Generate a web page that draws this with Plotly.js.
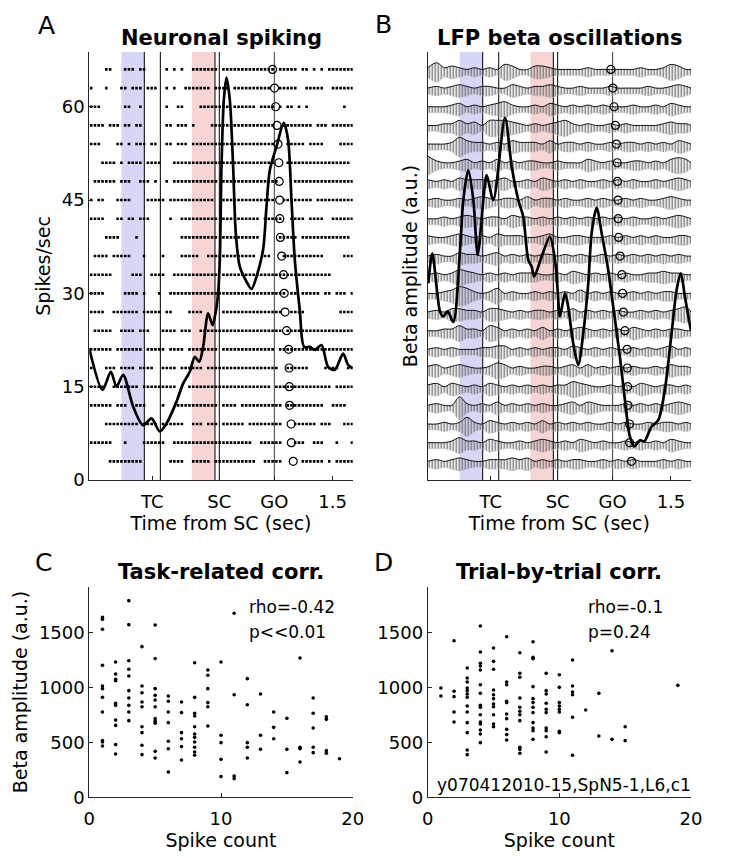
<!DOCTYPE html>
<html><head><meta charset="utf-8">
<script src="https://cdn.plot.ly/plotly-3.0.1.min.js"></script>
<style>html,body{margin:0;padding:0;background:#fff}</style>
</head><body><div id="chart" style="width:751px;height:858px"></div>
<script>
// ---------- DATA ----------
const trialRows = [66,63,60,57,54,51,48,45,42,39,36,33,30,27,24,21,18,15,12,9,6,3];
const goMarks = [0.704,0.731,0.746,0.764,0.777,0.788,0.792,0.799,0.801,0.808,0.826,0.850,0.859,0.870,0.890,0.918,0.923,0.927,0.931,0.951,0.953,0.978];
const spikeBinStart = -1.72, spikeBinWidth = 0.05;
const spikeRows = [
"0000110001"+"1101100000"+"1010100111"+"1111011111"+"1111111110"+"1111101101"+"0101111111",
"1000100011"+"0111011100"+"1010011111"+"1101111011"+"1111111100"+"1111100111"+"1100111111",
"1110000001"+"1001000000"+"1001100001"+"1111111011"+"1111011110"+"1011010100"+"0000000100",
"1111011101"+"1011000000"+"1101110100"+"0011111111"+"1111111110"+"0111111110"+"1110111111",
"1110000110"+"1011101100"+"1101110111"+"1111111111"+"1111111110"+"0011111011"+"1100001111",
"0001111010"+"1111011110"+"0011111111"+"1111111111"+"1111111110"+"0011111111"+"1111111110",
"0111111011"+"1001110100"+"1011111111"+"1111011111"+"1111111111"+"0000111111"+"1111111111",
"1011000111"+"1000011111"+"0111111111"+"1110011111"+"1111111110"+"0111111110"+"1111111111",
"1111000110"+"1101110000"+"0100111111"+"1111011111"+"1111101111"+"1001111011"+"1100111111",
"0000111100"+"0010000000"+"0000111111"+"1111011111"+"1111100000"+"1111101111"+"1111111110",
"0111101111"+"1000100001"+"0000111110"+"0111111111"+"1111001100"+"0111111111"+"1100000111",
"1111110000"+"0111001111"+"0011111111"+"1111011111"+"1111111111"+"1111111111"+"1111000000",
"1111000001"+"1110100010"+"0111111111"+"1111111111"+"1111111111"+"1101101111"+"1011011101",
"1111001111"+"1110111110"+"1100001111"+"0000011111"+"1111111111"+"1001111000"+"0000001111",
"0111110011"+"1101110001"+"1110111001"+"1111111111"+"1111111111"+"1011111111"+"1111111111",
"1111110111"+"1111011111"+"0111101111"+"1111011111"+"1111111110"+"1111111111"+"1111111111",
"1000111011"+"1101111001"+"1110111111"+"0111111111"+"1111111111"+"0011111100"+"0011110011",
"1111001111"+"1110111111"+"1110001111"+"1111111111"+"1111111101"+"1111111111"+"1111011111",
"1111110111"+"0011100001"+"0001111111"+"1111011110"+"1111111111"+"1011111111"+"1100111100",
"0000111111"+"1110111101"+"1111100111"+"0111011111"+"1011111111"+"1000111111"+"0111000111",
"1111110001"+"0000111111"+"0011111111"+"1111111111"+"1110011111"+"1000111001"+"1100010001",
"0000011111"+"1111000000"+"0111100111"+"1101111111"+"1111001111"+"1000001111"+"1101011111"
];
const rateTimes = [-1.722,-1.545,-1.435,-1.360,-1.272,-1.140,-1.008,-0.897,-0.787,-0.698,-0.566,-0.479,-0.390,-0.324,-0.267,-0.214,-0.148,-0.090,-0.046,-0.016,0.007,0.029,0.060,0.095,0.139,0.183,0.218,0.271,0.360,0.426,0.492,0.579,0.624,0.668,0.757,0.853,0.910,0.955,0.999,1.065,1.122,1.197,1.263,1.352,1.439,1.528,1.638,1.704,1.762];
const rateValues = [21.2,14.5,17.4,15.0,16.9,11.8,8.8,9.9,7.8,9.1,12.6,15.5,17.4,19.8,19.0,21.4,26.8,24.9,27.1,30.0,35.4,50.4,61.1,64.7,61.1,50.4,39.7,34.3,31.9,30.7,32.7,37.0,43.9,49.8,53.6,57.4,54.7,45.0,35.4,27.3,21.4,21.4,20.9,21.7,18.2,17.7,20.3,18.5,18.0];
const lfpTimes = [-1.72,-1.6,-1.5,-1.4,-1.3,-1.2,-1.1,-1.0,-0.9,-0.8,-0.7,-0.6,-0.5,-0.4,-0.3,-0.2,-0.1,0.0,0.1,0.2,0.3,0.4,0.5,0.6,0.7,0.8,0.9,1.0,1.1,1.2,1.3,1.4,1.5,1.6,1.7,1.765];
const lfpRows = [
"252321212143113321111211111121124311",
"121232122113212232112111211112112321",
"111231212342112132121212111211213211",
"112242314443212123421211212111123221",
"111253221213222131221211212212121321",
"521123121312122112111321211221213431",
"212132221231121321212112121211212321",
"121121232122131221211212112121123211",
"112123212213221212121212121211212321",
"211232121322211231122111212121211221",
"121132212312121221212112121212121211",
"121243212121222112132121212112232211",
"112354212412112121213121211212122111",
"121332213321212212131212121121212341",
"112242214312121312123212121321212211",
"121211122331212122132121211212123121",
"231232112431211221231312121211213221",
"231321213212121212243211212132122121",
"121162121312121211231321112121212321",
"112125213212121312121211212112122121",
"111242213211212321213212112121213211",
"121232112223231212122112121211121211"
];
const betaTimes = [-1.712,-1.659,-1.557,-1.513,-1.455,-1.381,-1.292,-1.249,-1.183,-1.116,-1.058,-0.984,-0.939,-0.852,-0.697,-0.608,-0.521,-0.455,-0.389,-0.344,-0.310,-0.212,-0.102,-0.036,0.000,0.030,0.097,0.132,0.206,0.272,0.339,0.405,0.450,0.516,0.582,0.669,0.735,0.824,0.890,0.956,1.013,1.089,1.146,1.243,1.331,1.419,1.508,1.574,1.631,1.684,1.763];
const betaValues = [31.6,36.4,27.1,26.3,27.1,25.4,37.0,45.0,49.8,45.0,36.2,45.0,49.0,45.0,58.2,50.4,45.0,42.3,35.4,34.3,32.7,35.9,39.1,35.4,30.5,26.3,30.0,28.4,22.0,18.5,23.6,31.6,39.7,43.8,39.7,33.8,27.9,19.8,12.9,7.0,5.4,6.4,6.2,8.6,9.6,14.5,23.6,30.5,33.2,29.5,24.1];
const eventLines = [-0.992,-0.780,-0.057,0.0];
const goLine = 0.728;
const blueBand = [-1.296,-0.992];
const pinkBand = [-0.361,-0.057];
const timeTickVals = [-0.886,0,0.728,1.5];
const timeTickText = ['TC','SC','GO','1.5'];
const rateTickVals = [0,15,30,45,60];
const countTickVals = [0,10,20];
const ampTickVals = [0,500,1000,1500];
// spike count 1..19 -> beta amplitudes
const taskBetaByCount = [
[1636,1618,1527,1200,1012,988,909,776,515,503,467],
[1230,1121,1073,1060,854,836,703,654,479,394],
[1788,1570,1242,1164,1103,970,903,836,776,697],
[1370,1012,951,867,824,642,588,473,388],
[1567,1261,988,927,885,824,715,691,673,418,358],
[921,873,776,679,509,442,230],
[867,770,588,533,461,339],
[1224,909,764,739,642,576,545,503,455,412,382],
[1157,1109,988,861,824,648],
[1230,564,497,345,188],
[1673,933,194,170],
[1079,842,497,455,358],
[939,564,436],
[776,636,533],
[718,436,224],
[1267,455,442,321],
[903,764,630,455,406],
[733,709,424,400],
[351]
];
const trialBetaByCount = [
[994,921],
[1424,964,915,776,685],
[1176,1085,1048,994,970,939,909,830,776,679,588,430,388],
[1557,1321,1218,1194,1157,1024,945,836,818,751,685,667,612,576,497],
[1357,1236,1164,976,933,897,848,824,751,667,642],
[1460,1048,1024,873,861,758,715,618,570,521],
[1315,1127,1091,903,818,782,751,697,455,436,400],
[1415,1273,1260,1006,897,861,818,770,679,630,606,527],
[1127,970,939,855,800,770,630,606,551,412],
[1115,1000,861,830,800,776,600,588],
[1248,1012,958,933,727,382],
[794],
[945,557],
[1333,527],
[642,515],
[],[],[],
[1018]
];

// ---------- BUILD ----------
const FONT = 'DejaVu Sans, Liberation Sans, sans-serif';
const AX = '#262626';
const traces = [];

// raster
const rx = [], ry = [];
spikeRows.forEach((s, r) => {
  for (let i = 0; i < s.length; i++) if (s[i] === '1') { rx.push(spikeBinStart + spikeBinWidth * (i + 0.5)); ry.push(trialRows[r]); }
});
traces.push({x: rx, y: ry, xaxis: 'x', yaxis: 'y', mode: 'markers', type: 'scatter',
  marker: {symbol: 'square', size: 2.6, color: '#000'}, hoverinfo: 'skip', showlegend: false});
traces.push({x: goMarks, y: trialRows, xaxis: 'x', yaxis: 'y', mode: 'markers', type: 'scatter',
  marker: {symbol: 'circle-open', size: 8, color: '#000', line: {width: 1.2}}, showlegend: false});
traces.push({x: rateTimes, y: rateValues, xaxis: 'x', yaxis: 'y', mode: 'lines', type: 'scatter',
  line: {color: '#000', width: 2.7, shape: 'spline', smoothing: 0.8}, showlegend: false});

// LFP rows
lfpRows.forEach((s, r) => {
  const amp = s.split('').map(Number);
  const base = trialRows[r];
  const up = amp.map(a => base + 0.27 * (a - 1));
  const lo = amp.map(a => base - 0.7 - 0.28 * a);
  traces.push({x: lfpTimes, y: lo, xaxis: 'x2', yaxis: 'y2', mode: 'lines', type: 'scatter',
    line: {color: '#cdcdcd', width: 0.5, shape: 'spline'}, hoverinfo: 'skip', showlegend: false});
  traces.push({x: lfpTimes, y: up, xaxis: 'x2', yaxis: 'y2', mode: 'lines', type: 'scatter',
    line: {color: '#111', width: 1, shape: 'spline'}, fill: 'tonexty', fillcolor: 'rgba(0,0,0,0)',
    fillpattern: {shape: '|', fgcolor: '#707070', bgcolor: 'rgba(255,255,255,0)', size: 3, solidity: 0.45},
    hoverinfo: 'skip', showlegend: false});
});
traces.push({x: goMarks, y: trialRows, xaxis: 'x2', yaxis: 'y2', mode: 'markers', type: 'scatter',
  marker: {symbol: 'circle-open', size: 8, color: '#000', line: {width: 1.2}}, showlegend: false});
traces.push({x: betaTimes, y: betaValues, xaxis: 'x2', yaxis: 'y2', mode: 'lines', type: 'scatter',
  line: {color: '#000', width: 2.7, shape: 'spline', smoothing: 0.8}, showlegend: false});

// scatters
function flat(groups) { const xs = [], ys = []; groups.forEach((g, i) => g.forEach(v => { xs.push(i + 1); ys.push(v); })); return [xs, ys]; }
const [tcx, tcy] = flat(taskBetaByCount);
const [tbx, tby] = flat(trialBetaByCount);
traces.push({x: tcx, y: tcy, xaxis: 'x3', yaxis: 'y3', mode: 'markers', type: 'scatter',
  marker: {size: 3.6, color: '#000'}, showlegend: false});
traces.push({x: tbx, y: tby, xaxis: 'x4', yaxis: 'y4', mode: 'markers', type: 'scatter',
  marker: {size: 3.6, color: '#000'}, showlegend: false});

// shapes
const shapes = [];
[['x', 'y'], ['x2', 'y2']].forEach(([xa, ya]) => {
  shapes.push({type: 'rect', xref: xa, yref: ya + ' domain', x0: blueBand[0], x1: blueBand[1], y0: 0, y1: 1, fillcolor: '#d6d6f7', line: {width: 0}, layer: 'below'});
  shapes.push({type: 'rect', xref: xa, yref: ya + ' domain', x0: pinkBand[0], x1: pinkBand[1], y0: 0, y1: 1, fillcolor: '#f8d5d5', line: {width: 0}, layer: 'below'});
  eventLines.forEach(v => shapes.push({type: 'line', xref: xa, yref: ya + ' domain', x0: v, x1: v, y0: 0, y1: 1, line: {color: '#000', width: 1}, layer: 'below'}));
  shapes.push({type: 'line', xref: xa, yref: ya + ' domain', x0: goLine, x1: goLine, y0: 0, y1: 1, line: {color: '#3a3a3a', width: 1}, layer: 'below'});
});

function axis(extra) {
  return Object.assign({showline: true, linecolor: AX, linewidth: 1, ticks: 'inside', ticklen: 4, tickcolor: AX,
    showgrid: false, zeroline: false, tickfont: {family: FONT, size: 18, color: '#000'}, fixedrange: true}, extra);
}
const tA = {family: FONT, size: 19, color: '#000'};
const dTop = [1 - 480 / 858, 1 - 52 / 858];
const dBot = [1 - 797.3 / 858, 1 - 586.7 / 858];
const dL = [89.3 / 751, 352.7 / 751];
const dR = [427.7 / 751, 691 / 751];

const layout = {
  width: 751, height: 858, margin: {l: 0, r: 0, t: 0, b: 0}, paper_bgcolor: '#fff', plot_bgcolor: 'rgba(0,0,0,0)',
  showlegend: false, font: {family: FONT, color: '#000'},
  xaxis: axis({domain: dL, anchor: 'y', range: [-1.72, 1.765], tickmode: 'array', tickvals: timeTickVals, ticktext: timeTickText,
    ticklabelstandoff: 5, title: {text: 'Time from SC (sec)', font: tA, standoff: 5}}),
  yaxis: axis({domain: dTop, anchor: 'x', range: [0, 68.8], tickmode: 'array', tickvals: rateTickVals,
    title: {text: 'Spikes/sec', font: tA, standoff: 6}}),
  xaxis2: axis({domain: dR, anchor: 'y2', range: [-1.72, 1.765], tickmode: 'array', tickvals: timeTickVals, ticktext: timeTickText,
    ticklabelstandoff: 5, title: {text: 'Time from SC (sec)', font: tA, standoff: 5}}),
  yaxis2: axis({domain: dTop, anchor: 'x2', range: [0, 68.8], showticklabels: false, ticks: '',
    title: {text: 'Beta amplitude (a.u.)', font: tA, standoff: 4}}),
  xaxis3: axis({domain: dL, anchor: 'y3', range: [0, 20], tickmode: 'array', tickvals: countTickVals,
    ticklabelstandoff: 5, title: {text: 'Spike count', font: tA, standoff: 4}}),
  yaxis3: axis({domain: dBot, anchor: 'x3', range: [0, 1915], tickmode: 'array', tickvals: ampTickVals,
    title: {text: 'Beta amplitude (a.u.)', font: tA, standoff: 6}}),
  xaxis4: axis({domain: dR, anchor: 'y4', range: [0, 20], tickmode: 'array', tickvals: countTickVals,
    ticklabelstandoff: 5, title: {text: 'Spike count', font: tA, standoff: 4}}),
  yaxis4: axis({domain: dBot, anchor: 'x4', range: [0, 1915], tickmode: 'array', tickvals: ampTickVals}),
  shapes: shapes,
  annotations: []
};
function ann(text, px, py, opts) {
  layout.annotations.push(Object.assign({text: text, xref: 'paper', yref: 'paper', x: px / 751, y: 1 - py / 858,
    showarrow: false, xanchor: 'center', yanchor: 'middle', font: {family: FONT, size: 17, color: '#000'}}, opts || {}));
}
const bold = {family: FONT, size: 21, color: '#000', weight: 'bold'};
ann('<b>Neuronal spiking</b>', 221, 38, {font: bold});
ann('<b>LFP beta oscillations</b>', 559, 38, {font: bold});
ann('<b>Task-related corr.</b>', 221, 572, {font: bold});
ann('<b>Trial-by-trial corr.</b>', 559, 572, {font: bold});
const big = {family: FONT, size: 25, color: '#000'};
ann('A', 46, 26, {font: big});
ann('B', 383, 25, {font: big});
ann('C', 43, 562, {font: big});
ann('D', 383, 562, {font: big});
ann('rho=-0.42', 247, 607, {xanchor: 'left'});
ann('p<<0.01', 247, 632, {xanchor: 'left'});
ann('rho=-0.1', 586, 607, {xanchor: 'left'});
ann('p=0.24', 586, 632, {xanchor: 'left'});
ann('y070412010-15,SpN5-1,L6,c1', 564, 785);

Plotly.newPlot('chart', traces, layout, {displayModeBar: false, staticPlot: true});
</script></body></html>
